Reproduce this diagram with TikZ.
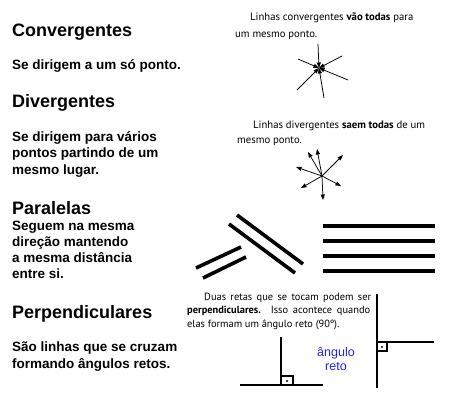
\documentclass[tikz,border=0pt]{standalone}
\usepackage{fontspec}
\setmainfont{Liberation Sans}
\newfontfamily\notafont{PT Sans}
\usetikzlibrary{arrows.meta}
\definecolor{azulreto}{RGB}{35,35,225}
\begin{document}
\begin{tikzpicture}[x=1pt,y=-1pt,
  titulo/.style={anchor=base west,inner sep=0pt,font=\fontsize{18}{20}\selectfont\bfseries},
  texto/.style={anchor=base west,inner sep=0pt,font=\fontsize{13.5}{16}\selectfont\bfseries},
  nota/.style={anchor=base west,inner sep=0pt,font=\notafont\fontsize{10.7}{12}\selectfont},
  notap/.style={anchor=base west,inner sep=0pt,font=\notafont\fontsize{10.4}{12}\selectfont},
  seta/.style={-{Triangle[length=5.5pt,width=4pt]},line width=0.75pt},
  paralela/.style={line width=3.6pt},
  reta/.style={line width=2.6pt},
  quadrado/.style={line width=1.6pt}]
\useasboundingbox (0,0) rectangle (452,400);
\node[titulo] (conv) at (12,36){Convergentes};
\node[texto] (convtxt) at (12,69){Se dirigem a um só ponto.};
\node[titulo] (div) at (12,107){Divergentes};
\node[texto] (divtxt1) at (12,141){Se dirigem para vários};
\node[texto] (divtxt2) at (12,157.5){pontos partindo de um};
\node[texto] (divtxt3) at (12,174){mesmo lugar.};
\node[titulo] (par) at (12,214){Paralelas};
\node[texto] (partxt1) at (12,230.5){Seguem na mesma};
\node[texto] (partxt2) at (12,246.5){direção mantendo};
\node[texto] (partxt3) at (12,262.5){a mesma distância};
\node[texto] (partxt4) at (12,278.5){entre si.};
\node[titulo] (perp) at (12,318){Perpendiculares};
\node[texto] (perptxt1) at (12,351.5){São linhas que se cruzam};
\node[texto] (perptxt2) at (12,368){formando ângulos retos.};

\node[nota] (notaconv1) at (250,20.5){Linhas convergentes \textbf{vão todas} para};
\node[nota] (notaconv2) at (235,37){um mesmo ponto.};
\coordinate (cc) at (319,68);
\foreach \x/\y [count=\i] in {318/44,298/59,342/56,348/80,324/98,297/90}{
  \coordinate (cv\i) at (\x,\y);
  \draw[seta] (cv\i) -- (cc);
}

\node[nota] (notadiv1) at (253,128){Linhas divergentes \textbf{saem todas} de um};
\node[nota] (notadiv2) at (237,143){mesmo ponto.};
\coordinate (dc) at (322,176);
\foreach \x/\y [count=\i] in {308/152,317/149,343/155,296/167,301/188,323/200,341/186}{
  \coordinate (dv\i) at (\x,\y);
  \draw[seta] (dc) -- (dv\i);
}

\draw[paralela] (196,268) -- (241,247);
\draw[paralela] (203,278) -- (246,257);
\draw[paralela] (237,215) -- (303,264);
\draw[paralela] (229,224) -- (295,273);
\foreach \y in {226,241,256,271}
  \draw[paralela] (323,\y) -- (435,\y);

\node[notap] (notaperp1) at (204,300){\makebox[167pt][s]{Duas retas que se tocam podem ser}};
\node[notap] (notaperp2) at (187,313){\makebox[183pt][s]{\textbf{perpendiculares.} Isso acontece quando}};
\node[notap] (notaperp3) at (187,327){elas formam um ângulo reto (90º).};

\coordinate (pa) at (281,385);
\draw[reta] (240,385) -- (323,385);
\draw[reta] (281,337) -- (pa);
\draw[quadrado] (pa) rectangle (293,376);
\fill (287,381) circle (1.1);

\node[anchor=base,inner sep=0pt,text=azulreto,font=\fontsize{12.5}{14}\selectfont] (ang1) at (336,356){ângulo};
\node[anchor=base,inner sep=0pt,text=azulreto,font=\fontsize{12.5}{14}\selectfont] (ang2) at (336,370){reto};

\coordinate (pb) at (377,342);
\draw[reta] (377,294) -- (377,388);
\draw[reta] (pb) -- (434,342);
\draw[quadrado] (pb) rectangle (387,351);
\fill (382,347) circle (1.1);
\end{tikzpicture}
\end{document}
